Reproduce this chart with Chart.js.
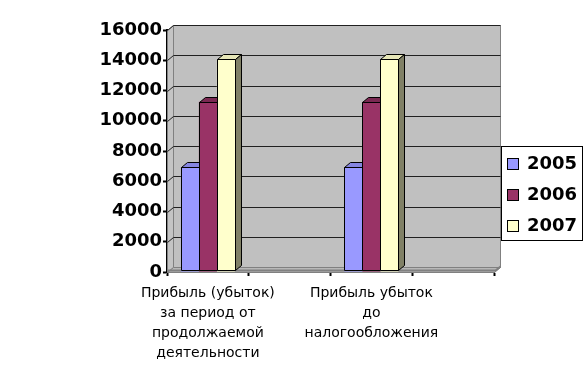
<!DOCTYPE html>
<html><head><meta charset="utf-8">
<script src="https://cdn.jsdelivr.net/npm/chart.js@4/dist/chart.umd.min.js"></script>
<style>html,body{margin:0;padding:0;background:#fff}#wrap{width:588px;height:388px;position:relative}</style>
</head><body><div id="wrap"><canvas id="c" width="588" height="388"></canvas></div>
<script>
const categories = [["Прибыль (убыток)","за период от","продолжаемой","деятельности"], "", ["Прибыль убыток","до","налогообложения"], ""];
const seriesNames = ["2005", "2006", "2007"];
const values2005 = [6950, null, 6950, null];
const values2006 = [11250, null, 11250, null];
const values2007 = [14050, null, 14050, null];
const yMin = 0, yMax = 16000, yStep = 2000;

const frontColors = ["#9999FF", "#993366", "#FFFFCC"];
const topColors = ["#8585E0", "#7A2952", "#E6E6B8"];
const sideColors = ["#4C4C80", "#4D1A33", "#808066"];
const DX = 6, DY = 5;

function poly(ctx, pts, fill, stroke) {
  ctx.beginPath();
  ctx.moveTo(pts[0][0], pts[0][1]);
  for (let i = 1; i < pts.length; i++) ctx.lineTo(pts[i][0], pts[i][1]);
  ctx.closePath();
  if (fill) { ctx.fillStyle = fill; ctx.fill(); }
  if (stroke) { ctx.strokeStyle = stroke; ctx.lineWidth = 1; ctx.stroke(); }
}

const threeD = {
  id: 'threeD',
  beforeDatasetsDraw(chart) {
    const { ctx, chartArea: a, scales: { y } } = chart;
    const L = Math.round(a.left) + 0.5, R = Math.round(a.right) + 0.5;
    const T = Math.round(a.top) + 0.5, B = Math.round(a.bottom) + 0.5;
    ctx.save();
    // back wall
    poly(ctx, [[L + DX, T - DY], [R + DX, T - DY], [R + DX, B - DY], [L + DX, B - DY]], '#C0C0C0', '#808080');
    // left wall
    poly(ctx, [[L, B], [L + DX, B - DY], [L + DX, T - DY], [L, T]], '#C4C4C4', '#808080');
    // floor
    poly(ctx, [[L, B], [R, B], [R + DX, B - DY], [L + DX, B - DY]], '#B8B8B8', '#808080');
    // floor front edge
    ctx.strokeStyle = '#808080';
    ctx.lineWidth = 2;
    ctx.beginPath();
    ctx.moveTo(L, B - 2);
    ctx.lineTo(R + 1, B - 2);
    ctx.lineTo(R + DX, B - DY - 1);
    ctx.stroke();
    // gridlines
    ctx.strokeStyle = '#202020';
    ctx.lineWidth = 1;
    for (let v = yMin + yStep; v <= yMax; v += yStep) {
      const yp = Math.round(y.getPixelForValue(v)) + 0.5;
      ctx.beginPath();
      ctx.moveTo(L, yp);
      ctx.lineTo(L + DX, yp - DY);
      ctx.lineTo(R + DX, yp - DY);
      ctx.stroke();
    }
    ctx.restore();
  },
  afterDatasetsDraw(chart) {
    const { ctx } = chart;
    ctx.save();
    const n = categories.length;
    for (let i = 0; i < n; i++) {
      chart.data.datasets.forEach((ds, d) => {
        if (ds.data[i] == null) return;
        const el = chart.getDatasetMeta(d).data[i];
        const xl = Math.round(el.x - el.width / 2) + 0.5;
        const xr = Math.round(el.x + el.width / 2) + 0.5;
        const yt = Math.round(el.y) + 0.5;
        const yb = Math.round(el.base) - 1.5;
        poly(ctx, [[xl, yt], [xr, yt], [xr, yb], [xl, yb]], frontColors[d], '#000');
        poly(ctx, [[xl, yt], [xl + DX, yt - DY], [xr + DX, yt - DY], [xr, yt]], topColors[d], '#000');
        poly(ctx, [[xr, yt], [xr + DX, yt - DY], [xr + DX, yb - DY], [xr, yb]], sideColors[d], '#000');
      });
    }
    ctx.restore();
  },
  afterDraw(chart) {
    const { ctx } = chart;
    ctx.save();
    ctx.fillStyle = '#fff';
    ctx.fillRect(501, 146, 81, 94);
    ctx.strokeStyle = '#000';
    ctx.lineWidth = 1;
    ctx.strokeRect(501.5, 146.5, 81, 94);
    const ys = [158, 189, 220];
    ctx.font = 'bold 18px "DejaVu Sans"';
    ctx.textBaseline = 'middle';
    ctx.textAlign = 'left';
    seriesNames.forEach((nm, d) => {
      ctx.fillStyle = frontColors[d];
      ctx.fillRect(507, ys[d], 11, 11);
      ctx.strokeRect(507.5, ys[d] + 0.5, 11, 11);
      ctx.fillStyle = '#000';
      ctx.fillText(nm, 527, ys[d] + 6);
    });
    ctx.restore();
  }
};

new Chart(document.getElementById('c'), {
  type: 'bar',
  data: {
    labels: categories,
    datasets: [
      { label: seriesNames[0], data: values2005, backgroundColor: frontColors[0] },
      { label: seriesNames[1], data: values2006, backgroundColor: frontColors[1] },
      { label: seriesNames[2], data: values2007, backgroundColor: frontColors[2] }
    ]
  },
  options: {
    responsive: false,
    animation: false,
    devicePixelRatio: 1,
    layout: { padding: { left: 0, top: 30, right: 94, bottom: 0 } },
    categoryPercentage: 0.66,
    barPercentage: 1,
    plugins: { legend: { display: false }, tooltip: { enabled: false } },
    scales: {
      x: {
        offset: true,
        grid: { display: true, offset: true, drawOnChartArea: false, drawTicks: true, tickLength: 4, tickWidth: 2, tickColor: '#000', color: '#000' },
        border: { display: true, color: '#000', width: 2 },
        ticks: { autoSkip: false, maxRotation: 0, minRotation: 0, padding: 7, color: '#000',
          font: { family: 'DejaVu Sans', size: 14, lineHeight: 1.43 } },
        afterFit(s) { s.height = 116; }
      },
      y: {
        min: yMin, max: yMax,
        grid: { display: true, drawOnChartArea: false, drawTicks: true, tickLength: 4, tickWidth: 2, tickColor: '#000' },
        border: { display: true, color: '#000', width: 2 },
        ticks: { stepSize: yStep, padding: 1, color: '#000',
          callback: (v) => String(v),
          font: { family: 'DejaVu Sans', size: 18, weight: 'bold' } },
        afterFit(s) { s.width = 167; }
      }
    }
  },
  plugins: [threeD]
});
</script>
</body></html>
